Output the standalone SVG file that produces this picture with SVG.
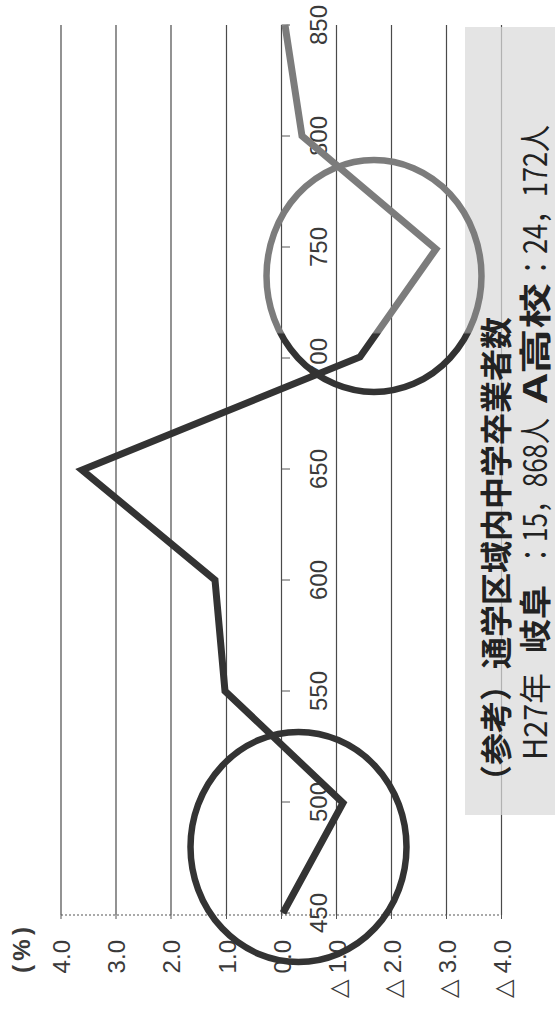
<svg xmlns="http://www.w3.org/2000/svg" width="555" height="1010" viewBox="0 0 555 1010">
<style>
.grid{stroke:#4a4a4a;stroke-width:1.2;fill:none}
.tick{stroke:#555;stroke-width:1}
.lbl{font-family:"Liberation Sans",Arial,sans-serif;font-size:24px;fill:#3a3a3a}
.jp{font-family:"Noto Sans CJK JP","Noto Sans",sans-serif;fill:#222}
.b{font-weight:bold}
</style>
<defs>
<linearGradient id="tone" gradientUnits="userSpaceOnUse" x1="0" y1="0" x2="0" y2="1010">
<stop offset="0" stop-color="#7c7c7c"/>
<stop offset="0.329" stop-color="#7c7c7c"/>
<stop offset="0.331" stop-color="#333"/>
<stop offset="1" stop-color="#333"/>
</linearGradient>
<linearGradient id="gtone" gradientUnits="userSpaceOnUse" x1="0" y1="0" x2="0" y2="1010">
<stop offset="0" stop-color="#b5b5b5"/>
<stop offset="0.309" stop-color="#b5b5b5"/>
<stop offset="0.311" stop-color="#4a4a4a"/>
<stop offset="1" stop-color="#4a4a4a"/>
</linearGradient>
</defs>
<rect width="555" height="1010" fill="#fff"/>
<g id="gridlines">
<line class="grid" x1="61" y1="25" x2="61" y2="915"/>
<line class="grid" x1="116" y1="25" x2="116" y2="915"/>
<line class="grid" x1="171" y1="25" x2="171" y2="915"/>
<line class="grid" x1="226.5" y1="25" x2="226.5" y2="915" stroke="url(#gtone)"/>
<line class="grid" x1="281.5" y1="25" x2="281.5" y2="915"/>
<line class="grid" x1="336.5" y1="25" x2="336.5" y2="915"/>
<line class="grid" x1="391.5" y1="25" x2="391.5" y2="915"/>
<line class="grid" x1="446.5" y1="25" x2="446.5" y2="915"/>
<line class="grid" x1="501.5" y1="25" x2="501.5" y2="915"/>
<line x1="61" y1="915" x2="501.5" y2="915" stroke="#555" stroke-width="1.2" stroke-dasharray="2,2"/>
<g class="tick">
<line x1="61" y1="915" x2="61" y2="919"/><line x1="116" y1="915" x2="116" y2="919"/><line x1="171" y1="915" x2="171" y2="919"/><line x1="226.5" y1="915" x2="226.5" y2="919"/><line x1="281.5" y1="915" x2="281.5" y2="919"/><line x1="336.5" y1="915" x2="336.5" y2="919"/><line x1="391.5" y1="915" x2="391.5" y2="919"/><line x1="446.5" y1="915" x2="446.5" y2="919"/><line x1="501.5" y1="915" x2="501.5" y2="919"/>
<line x1="281.5" y1="913" x2="290" y2="913"/><line x1="281.5" y1="802" x2="290" y2="802"/><line x1="281.5" y1="691" x2="290" y2="691"/><line x1="281.5" y1="580" x2="290" y2="580"/><line x1="281.5" y1="469" x2="290" y2="469"/><line x1="281.5" y1="358" x2="290" y2="358"/><line x1="281.5" y1="247" x2="290" y2="247"/><line x1="281.5" y1="136" x2="290" y2="136"/><line x1="281.5" y1="25" x2="290" y2="25"/>
</g>
</g>
<g id="note-box">
<rect x="465" y="27" width="90" height="788" fill="#dadada" fill-opacity="0.72"/>
</g>
<g id="axis-labels" transform="rotate(-90)">
<text class="lbl b" x="-927" y="30" text-anchor="end" font-size="26" textLength="46" lengthAdjust="spacing">(%)</text>
<text class="lbl" x="-940" y="70" text-anchor="end">4.0</text>
<text class="lbl" x="-940" y="125" text-anchor="end">3.0</text>
<text class="lbl" x="-940" y="180" text-anchor="end">2.0</text>
<text class="lbl" x="-940" y="235.5" text-anchor="end">1.0</text>
<text class="lbl" x="-940" y="290.5" text-anchor="end">0.0</text>
<text class="lbl" x="-940" y="345.5" text-anchor="end">△ 1.0</text>
<text class="lbl" x="-940" y="400.5" text-anchor="end">△ 2.0</text>
<text class="lbl" x="-940" y="455.5" text-anchor="end">△ 3.0</text>
<text class="lbl" x="-940" y="510.5" text-anchor="end">△ 4.0</text>
<text class="lbl" x="-913" y="327" text-anchor="middle">450</text>
<text class="lbl" x="-802" y="327" text-anchor="middle">500</text>
<text class="lbl" x="-691" y="327" text-anchor="middle">550</text>
<text class="lbl" x="-580" y="327" text-anchor="middle">600</text>
<text class="lbl" x="-469" y="327" text-anchor="middle">650</text>
<text class="lbl" x="-358" y="327" text-anchor="middle">700</text>
<text class="lbl" x="-247" y="327" text-anchor="middle" fill="#777">750</text>
<text class="lbl" x="-136" y="327" text-anchor="middle" fill="#777">800</text>
<text class="lbl" x="-25" y="327" text-anchor="middle" fill="#777">850</text>
</g>
<g id="note-text" transform="rotate(-90)">
<text class="jp b" x="-797" y="508" font-size="32" textLength="480" lengthAdjust="spacingAndGlyphs">（参考）通学区域内中学卒業者数</text>
<text class="jp" x="-760" y="547" font-size="32" textLength="87" lengthAdjust="spacingAndGlyphs">H27年</text>
<text class="jp b" x="-653" y="547" font-size="32" textLength="68" lengthAdjust="spacingAndGlyphs">岐阜</text>
<text class="jp" x="-568" y="547" font-size="32" textLength="150" lengthAdjust="spacingAndGlyphs">：15，868人</text>
<text class="jp b" x="-403" y="547" font-size="32" textLength="120" lengthAdjust="spacingAndGlyphs">A高校</text>
<text class="jp" x="-281" y="547" font-size="32" textLength="156" lengthAdjust="spacingAndGlyphs">：24，172人</text>
</g>
<g id="connectors">
<polyline points="283,913 343,803 225,691 215,580 82,470 360,357 436,249 302,136 285,25" fill="none" stroke="url(#tone)" stroke-width="7" stroke-linejoin="miter"/>
</g>
<g id="circle-lower">
<ellipse cx="298.5" cy="847" rx="108" ry="115" fill="none" stroke="#333" stroke-width="6.5"/>
</g>
<g id="circle-upper">
<ellipse cx="374" cy="276" rx="107.5" ry="116" fill="none" stroke="url(#tone)" stroke-width="6.5"/>
</g>
</svg>
